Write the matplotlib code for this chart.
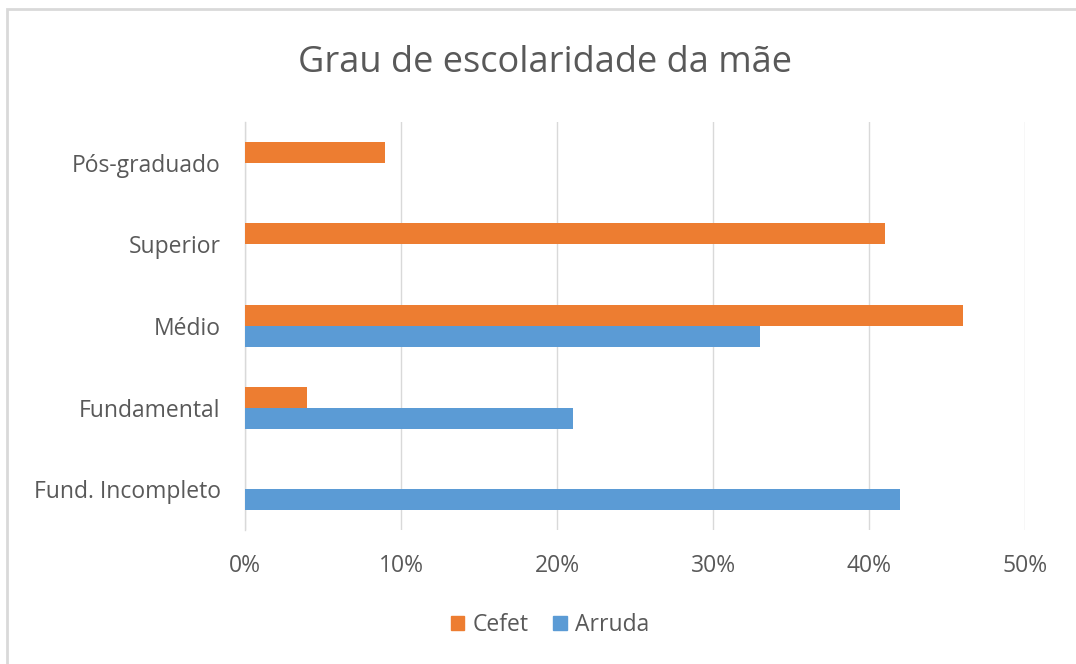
import matplotlib
matplotlib.use("Agg")
import matplotlib.pyplot as plt
import numpy as np
from matplotlib.patches import Rectangle

categories = ["Fund. Incompleto", "Fundamental", "Médio", "Superior", "Pós-graduado"]
cefet = [0, 4, 46, 41, 9]
arruda = [42, 21, 33, 0, 0]
xticks = [0, 10, 20, 30, 40, 50]
xtick_labels = ["0%", "10%", "20%", "30%", "40%", "50%"]

plt.rcParams['font.family'] = ['Open Sans', 'DejaVu Sans']

fig = plt.figure(figsize=(10.76, 6.64), dpi=100)
ax = fig.add_axes([245/1076, 1-530/664, 780/1076, 408/664])

y = np.arange(len(categories))
h = 0.257
orange = "#ED7D31"
blue = "#5B9BD5"
ax.barh(y + h/2, cefet, height=h, color=orange, label="Cefet", zorder=3)
ax.barh(y - h/2, arruda, height=h, color=blue, label="Arruda", zorder=3)

ax.set_xlim(0, 50)
ax.set_ylim(-0.5, len(categories) - 0.5)
ax.set_xticks(xticks)
ax.set_xticklabels(xtick_labels)
ax.set_yticks(y)
ax.set_yticklabels(categories)
ax.tick_params(axis='both', length=0, labelsize=16.5, colors="#595959")
ax.tick_params(axis='x', pad=17)
ax.tick_params(axis='y', pad=17.5)
ax.grid(axis='x', color="#D9D9D9", linewidth=1, zorder=0)
for s in ["top", "right", "bottom"]:
    ax.spines[s].set_visible(False)
ax.spines["left"].set_color("#D9D9D9")
ax.spines["left"].set_linewidth(1)

fig.text(545/1076, 1-63/664, "Grau de escolaridade da mãe", ha="center", va="center",
         fontsize=26, color="#595959")

handles = [Rectangle((0, 0), 1, 1, color=orange), Rectangle((0, 0), 1, 1, color=blue)]
fig.legend(handles, ["Cefet", "Arruda"], loc="center", bbox_to_anchor=(550/1076, 1-625/664),
           ncol=2, frameon=False, fontsize=16.5, labelcolor="#595959",
           handlelength=0.6, handleheight=0.6, handletextpad=0.35, columnspacing=1.1)

# outer chart border (top and left visible)
fig.add_artist(Rectangle((7/1076, -0.1), 1.2, 1 - 9/664 + 0.1, transform=fig.transFigure,
                         fill=False, edgecolor="#D9D9D9", linewidth=2))

fig.savefig("out.png", dpi=100)
